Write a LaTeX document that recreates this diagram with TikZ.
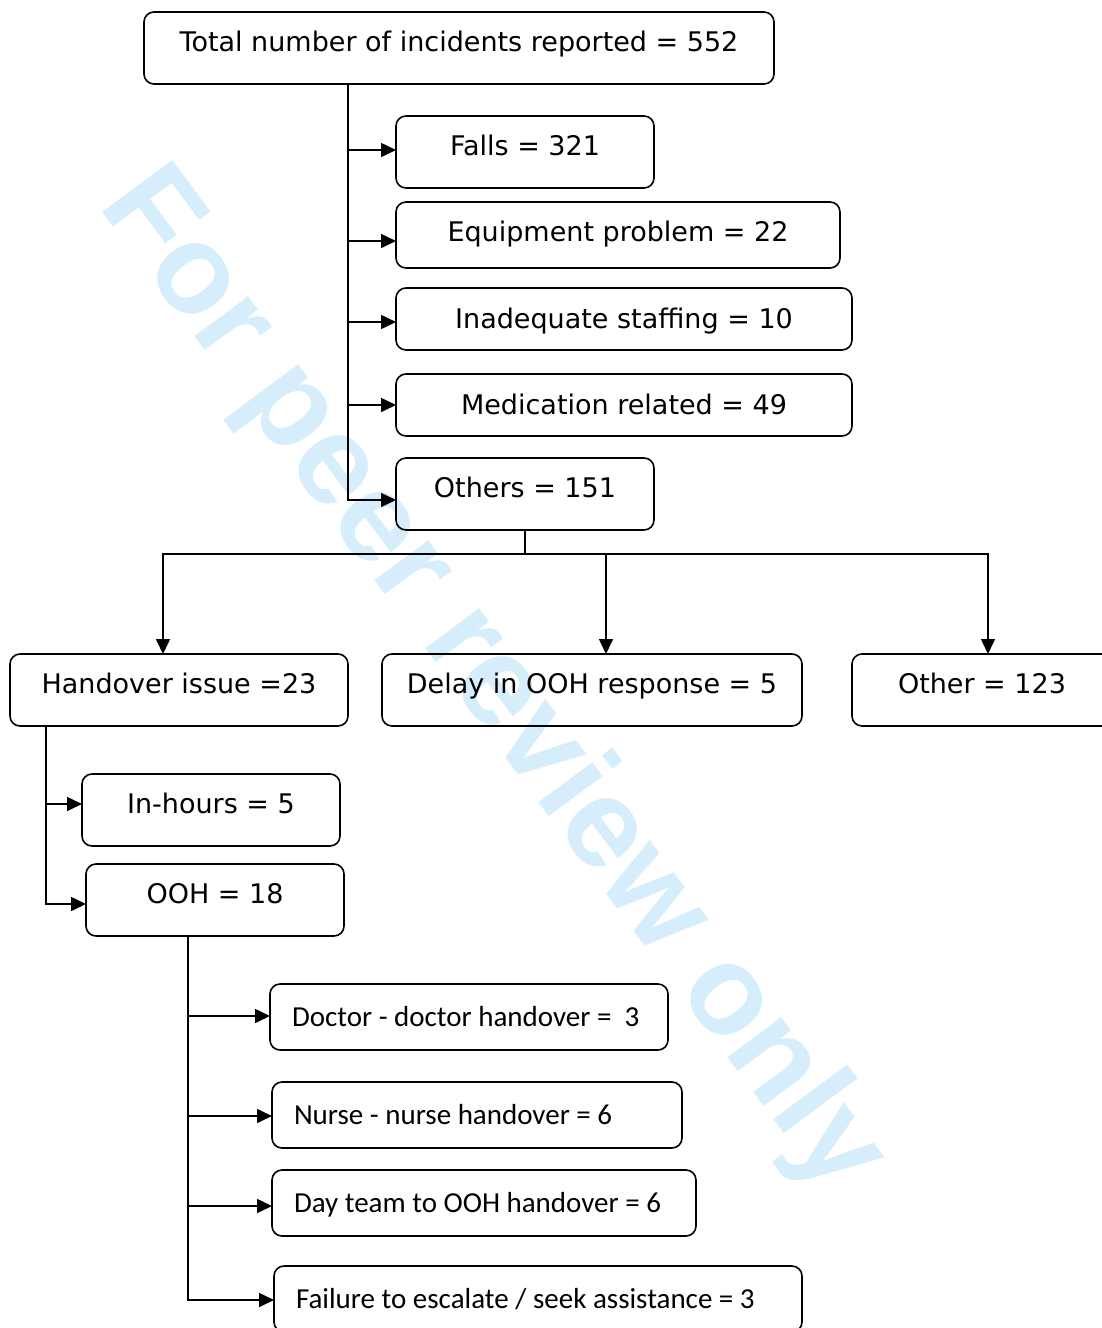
\documentclass[tikz,border=0pt]{standalone}
\usepackage{fontspec}
\setmainfont{DejaVu Sans}
\newfontfamily\calfont{Carlito}
\newfontfamily\markfont{Liberation Sans}
\usetikzlibrary{arrows.meta,positioning}
\definecolor{peerblue}{HTML}{D6EEFB}

\begin{document}
\begin{tikzpicture}[
  x=1pt,y=-1pt,
  font=\fontsize{27}{30}\selectfont,
  box/.style={draw,line width=1.6pt,rounded corners=10pt,anchor=north west,inner sep=0pt,outer sep=0pt,text height=19pt,text depth=0pt},
  tall/.style={text depth=12pt},
  sub/.style={box,font=\calfont\fontsize{29}{32}\selectfont,inner xsep=22pt,text height=18pt},
  arr/.style={-{Triangle[length=15pt,width=14pt]},line width=1.6pt},
  line/.style={line width=1.6pt}
]
\useasboundingbox (0,0) rectangle (1101,1328);
\node[rotate=-53.5,anchor=base west,inner sep=0pt,text=peerblue,font=\markfont\bfseries\fontsize{127}{127}\selectfont] (mark) at (97,205) {For peer review only};

\node[box,tall,minimum width=630pt,minimum height=72pt] (total) at (144,12) {Total number of incidents reported = 552};
\node[box,tall,minimum width=258pt,minimum height=72pt] (falls) at (396,116) {Falls = 321};
\node[box,text depth=6pt,minimum width=444pt,minimum height=66pt] (equip) at (396,202) {Equipment problem = 22};
\node[box,minimum width=456pt,minimum height=62pt] (staff) at (396,288) {Inadequate staffing = 10};
\node[box,minimum width=456pt,minimum height=62pt] (med) at (396,374) {Medication related = 49};
\node[box,tall,minimum width=258pt,minimum height=72pt] (others) at (396,458) {Others = 151};

\node[box,tall,minimum width=338pt,minimum height=72pt] (handover) at (10,654) {Handover issue =23};
\node[box,tall,minimum width=420pt,minimum height=72pt] (delay) at (382,654) {Delay in OOH response = 5};
\node[box,tall,minimum width=260pt,minimum height=72pt] (other) at (852,654) {Other = 123};

\node[box,tall,minimum width=258pt,minimum height=72pt] (inhours) at (82,774) {In-hours = 5};
\node[box,tall,minimum width=258pt,minimum height=72pt] (ooh) at (86,864) {OOH = 18};

\node[sub,minimum height=66pt] (doctor) at (270,984) {\makebox[354pt][l]{Doctor - doctor handover =~ 3}};
\node[sub,minimum height=66pt] (nurse) at (272,1082) {\makebox[366pt][l]{Nurse - nurse handover = 6}};
\node[sub,minimum height=66pt] (dayteam) at (272,1170) {\makebox[380pt][l]{Day team to OOH handover = 6}};
\node[sub,minimum height=66pt] (failure) at (274,1266) {\makebox[484pt][l]{Failure to escalate / seek assistance = 3}};

% main categories
\coordinate (stem) at ([xshift=-111pt]total.south);
\foreach \n/\dy in {falls/2,equip/-6,staff/-3,med/0,others/-6}
  \draw[arr] (stem) |- ([yshift=\dy pt]\n.west);

% split of others
\draw[line] (others.south) -- ++(0,24) coordinate (split);
\draw[arr] (split) -| ([xshift=-16pt]handover.north);
\draw[arr] (split) -| ([xshift=14pt]delay.north);
\draw[arr] (split) -| ([xshift=6pt]other.north);

% handover
\coordinate (hstem) at ([xshift=36pt]handover.south west);
\draw[arr] (hstem) |- ([yshift=6pt]inhours.west);
\draw[arr] (hstem) |- ([yshift=-4pt]ooh.west);

% out of hours
\coordinate (ostem) at ([xshift=102pt]ooh.south west);
\foreach \n/\dy in {doctor/1,nurse/-1,dayteam/-3,failure/-1}
  \draw[arr] (ostem) |- ([yshift=\dy pt]\n.west);
\end{tikzpicture}
\end{document}
